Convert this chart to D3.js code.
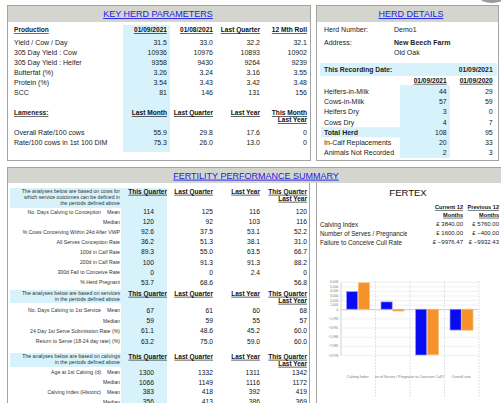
<!DOCTYPE html>
<html>
<head>
<meta charset="utf-8">
<script src="https://cdn.jsdelivr.net/npm/d3@7"></script>
<style>
  body { margin: 0; background: #fff; }
  svg { display: block; font-family: "Liberation Sans", Arial, sans-serif; }
</style>
</head>
<body>
<div id="chart"></div>
<script>
// ---- key herd parameters
const prodCols = ['01/09/2021', '01/08/2021', 'Last Quarter', '12 Mth Roll'];
const prodRows = ['Yield / Cow / Day', '305 Day Yield : Cow', '305 Day Yield : Heifer', 'Butterfat (%)', 'Protein (%)', 'SCC'];
const prodValues = [
  ['31.5', '33.0', '32.2', '32.1'],
  ['10936', '10976', '10893', '10902'],
  ['9358', '9430', '9264', '9239'],
  ['3.26', '3.24', '3.16', '3.55'],
  ['3.54', '3.43', '3.42', '3.48'],
  ['81', '146', '131', '156'],
];
const lameCols = ['Last Month', 'Last Quarter', 'Last Year', 'This Month|Last Year'];
const lameRows = ['Overall Rate/100 cows', 'Rate/100 cows in 1st 100 DIM'];
const lameValues = [['55.9', '29.8', '17.6', '0'], ['75.3', '26.0', '13.0', '0']];

// ---- herd details
const herdInfo = [['Herd Number:', 'Demo1'], ['Address:', 'New Beech Farm'], ['', 'Old Oak']];
const recordDate = '01/09/2021';
const herdCols = ['01/09/2021', '01/09/2020'];
const herdRows = ['Heifers-in-Milk', 'Cows-in-Milk', 'Heifers Dry', 'Cows Dry', 'Total Herd', 'In-Calf Replacements', 'Animals Not Recorded'];
const herdValues = [[44, 29], [57, 59], [3, 0], [4, 7], [108, 95], [20, 33], [2, 3]];

// ---- fertility tables
const fertCols = ['This Quarter', 'Last Quarter', 'Last Year', 'This Quarter|Last Year'];
const fertNotes = [
  ['The analyses below are based on cows for', 'which service outcomes can be defined in', 'the periods defined above'],
  ['The analyses below are based on services', 'in the periods defined above'],
  ['The analyses below are based on calvings', 'in the periods defined above'],
];
const conceptionLabels = ['No. Days Calving to Conception', '', '% Cows Conceiving Within 24d After VWP', 'All Serves Conception Rate', '100d in Calf Rate', '200d in Calf Rate', '300d Fail to Conceive Rate', '% Herd Pregnant'];
const conceptionStats = ['Mean', 'Median', '', '', '', '', '', ''];
const conceptionValues = [
  ['114', '125', '116', '120'],
  ['120', '92', '103', '116'],
  ['92.6', '37.5', '53.1', '52.2'],
  ['36.2', '51.3', '38.1', '31.0'],
  ['89.3', '55.0', '63.5', '66.7'],
  ['100', '91.3', '91.3', '88.2'],
  ['0', '0', '2.4', '0'],
  ['53.7', '68.6', '', '56.8'],
];
const serviceLabels = ['No. Days Calving to 1st Service', '', '24 Day 1st Serve Submission Rate (%)', 'Return to Serve (18-24 day rate) (%)'];
const serviceStats = ['Mean', 'Median', '', ''];
const serviceValues = [
  ['67', '61', '60', '68'],
  ['59', '59', '55', '57'],
  ['61.1', '48.6', '45.2', '60.0'],
  ['63.2', '75.0', '59.0', '60.0'],
];
const calvingLabels = ['Age at 1st Calving (d)', '', 'Calving Index (Historic)', ''];
const calvingStats = ['Mean', 'Median', 'Mean', 'Median'];
const calvingValues = [
  ['1300', '1332', '1311', '1342'],
  ['1066', '1149', '1116', '1172'],
  ['383', '418', '392', '419'],
  ['356', '413', '386', '369'],
];

// ---- fertex
const fertexCols = ['Current 12|Months', 'Previous 12|Months'];
const fertexRows = ['Calving Index', 'Number of Serves / Pregnancies', 'Failure to Conceive Cull Rate'];
const fertexCurrent = [3840.00, 1600.00, -9976.47];
const fertexPrevious = [5760.00, -400.00, -9932.43];

// ---- cost chart
const costCategories = ['Calving Index', 'Number of Serves / Pregnancies', 'Failure to Conceive Cull Rate', 'Overall cost'];
const costCurrent = [3840, 1600, -9976.47, -4536.47];
const costPrevious = [5760, -400, -9932.43, -4572.43];
const costTicks = [6000, 5000, 4000, 3000, 2000, 1000, 0, -1995, -3991, -5986, -7981, -9976];

const W = 501, H = 403;
const BLUE_BG = '#d7f2fb', GREY_BG = '#d5d5cf', BORDER = '#a3a3a3', LINK = '#1a1ae6';

const svg = d3.select('#chart').append('svg').attr('width', W).attr('height', H);

function label(g, x, y, s, size, o = {}) {
  return g.append('text')
    .attr('x', x).attr('y', y).attr('dy', '0.35em')
    .attr('text-anchor', o.anchor || 'start')
    .attr('font-weight', o.bold ? 'bold' : null)
    .style('text-decoration', o.under ? 'underline' : null)
    .attr('fill', o.fill || '#222')
    .style('font-size', size + 'px')
    .text(s);
}

// header that may break onto two lines ("a|b")
function header(g, x, y, s, size, lineGap) {
  s.split('|').forEach((part, i) => label(g, x, y + i * lineGap, part, size, { anchor: 'end', bold: true, under: true, fill: '#111' }));
}

function panel(x, y, w, h, bandH, title, titleX) {
  const g = svg.append('g');
  g.append('rect').attr('x', x + 0.5).attr('y', y + 0.5).attr('width', w).attr('height', h)
    .attr('fill', '#fff').attr('stroke', BORDER);
  g.append('rect').attr('x', x + 1).attr('y', y + 1).attr('width', w - 1).attr('height', bandH)
    .attr('fill', GREY_BG);
  label(g, titleX, y + bandH / 2 + 1, title, 9, { anchor: 'middle', under: true, fill: LINK });
  return g;
}

// small grey shape peeking in at the top right corner
svg.append('ellipse').attr('cx', 492).attr('cy', -2).attr('rx', 12).attr('ry', 5).attr('fill', '#9a9a9a');

// ================= KEY HERD PARAMETERS =================
const p1 = panel(7, 5, 303, 155, 16, 'KEY HERD PARAMETERS', 158);
const colR1 = [167, 213, 260, 307];
p1.append('rect').attr('x', 123).attr('y', 25).attr('width', 47).attr('height', 127).attr('fill', BLUE_BG);
label(p1, 14, 30, 'Production', 6.6, { bold: true, under: true });
prodCols.forEach((c, j) => header(p1, colR1[j], 30, c, 6.6, 7));
const prodY = d3.scaleLinear().domain([0, 1]).range([42.7, 52.7]);
prodRows.forEach((r, i) => {
  label(p1, 14, prodY(i), r, 7);
  prodValues[i].forEach((v, j) => label(p1, colR1[j], prodY(i), v, 7, { anchor: 'end' }));
});
label(p1, 14, 113, 'Lameness:', 6.6, { bold: true, under: true });
lameCols.forEach((c, j) => header(p1, colR1[j], 113, c, 6.6, 7));
const lameY = d3.scaleLinear().domain([0, 1]).range([132.5, 142.7]);
lameRows.forEach((r, i) => {
  label(p1, 14, lameY(i), r, 7);
  lameValues[i].forEach((v, j) => label(p1, colR1[j], lameY(i), v, 7, { anchor: 'end' }));
});

// ================= HERD DETAILS =================
const p2 = panel(316, 5, 182, 155, 16, 'HERD DETAILS', 411);
const infoY = d3.scaleLinear().domain([0, 1]).range([30, 42.5]);
herdInfo.forEach((row, i) => {
  const y = i < 2 ? infoY(i) : 52.7;
  label(p2, 324, y, row[0], 7);
  label(p2, 394, y, row[1], 7, { bold: i === 1 });
});
p2.append('rect').attr('x', 320).attr('y', 63).attr('width', 177).attr('height', 13).attr('fill', BLUE_BG);
label(p2, 324, 69.5, 'This Recording Date:', 6.8, { bold: true });
label(p2, 492.7, 69.5, recordDate, 6.8, { bold: true, anchor: 'end' });
const colR2 = [446.7, 492.7];
herdCols.forEach((c, j) => header(p2, colR2[j], 80.5, c, 6.6, 7));
p2.append('rect').attr('x', 400).attr('y', 85).attr('width', 50).attr('height', 73).attr('fill', BLUE_BG);
const herdY = d3.scaleLinear().domain([0, 1]).range([91.7, 101.85]);
herdRows.forEach((r, i) => {
  const total = r === 'Total Herd';
  if (total) p2.append('rect').attr('x', 321).attr('y', herdY(i) - 5).attr('width', 80).attr('height', 10).attr('fill', BLUE_BG);
  label(p2, 324, herdY(i), r, 7, { bold: total });
  herdValues[i].forEach((v, j) => label(p2, colR2[j], herdY(i), v, 7, { anchor: 'end' }));
});

// ================= FERTILITY PERFORMANCE SUMMARY =================
const p3 = panel(7, 167, 505, 250, 15, 'FERTILITY PERFORMANCE SUMMARY', 256);
p3.append('line').attr('x1', 309.5).attr('x2', 309.5).attr('y1', 183).attr('y2', H).attr('stroke', BORDER);
p3.append('line').attr('x1', 316.5).attr('x2', 316.5).attr('y1', 183).attr('y2', H).attr('stroke', BORDER);
p3.append('rect').attr('x', 121).attr('y', 188).attr('width', 46).attr('height', H - 188).attr('fill', BLUE_BG);

const colR3 = [167, 213, 260, 307];
const valR3 = [154, 213, 260, 307];
const blocks = [
  { top: 188, boxH: 20, first: 211.7, step: 10.1, labels: conceptionLabels, stats: conceptionStats, values: conceptionValues },
  { top: 290, boxH: 13, first: 310.5, step: 10.3, labels: serviceLabels, stats: serviceStats, values: serviceValues },
  { top: 353, boxH: 14, first: 372.5, step: 9.8, labels: calvingLabels, stats: calvingStats, values: calvingValues },
];
blocks.forEach((b, k) => {
  p3.append('rect').attr('x', 10).attr('y', b.top).attr('width', 111).attr('height', b.boxH).attr('fill', BLUE_BG);
  fertNotes[k].forEach((t, i) => label(p3, 120, b.top + 3 + i * 6, t, 5.2, { anchor: 'end', fill: '#333' }));
  fertCols.forEach((c, j) => header(p3, colR3[j], b.top + 3.5, c, 6.5, 7));
  b.labels.forEach((l, i) => {
    const y = b.first + i * b.step;
    const stat = b.stats[i];
    if (stat) {
      label(p3, 120, y, stat, 5.2, { anchor: 'end', fill: '#333' });
      if (l) label(p3, 101, y, l, 5.2, { anchor: 'end', fill: '#333' });
    } else {
      label(p3, 120, y, l, 5.2, { anchor: 'end', fill: '#333' });
    }
    b.values[i].forEach((v, j) => label(p3, valR3[j], y, v, 6.7, { anchor: 'end', fill: '#111' }));
  });
});

// ---- FERTEX summary
label(p3, 408, 193, 'FERTEX', 9.5, { anchor: 'middle', fill: '#111' });
const colR4 = [463, 499];
fertexCols.forEach((c, j) => header(p3, colR4[j], 207, c, 5.6, 7.8));
svg.append('clipPath').attr('id', 'fx-clip').append('rect').attr('x', 316).attr('y', 215).attr('width', 91).attr('height', 35);
const money = (v) => '£ ' + d3.format('.2f')(v);
const fxY = d3.scaleLinear().domain([0, 1]).range([224.3, 233.3]);
fertexRows.forEach((r, i) => {
  label(p3, 320, fxY(i), r, 6.3, { fill: '#222' }).attr('clip-path', 'url(#fx-clip)');
  label(p3, colR4[0], fxY(i), money(fertexCurrent[i]), 6, { anchor: 'end' });
  label(p3, colR4[1], fxY(i), money(fertexPrevious[i]), 6, { anchor: 'end' });
});

// ---- cost chart
const chart = svg.append('g');
const x0 = d3.scaleBand().domain(costCategories).range([340.5, 478.5]);
const x1 = d3.scaleBand().domain(['current', 'previous']).range([6, x0.bandwidth() - 5.5]).paddingInner(0.05);
const y = d3.scaleLinear().domain([-9976.47, 6000]).range([355, 281.7]);

chart.append('g').selectAll('line').data(costTicks).join('line')
  .attr('x1', 340.5).attr('x2', 478.5)
  .attr('y1', (d) => y(d) + 0.5).attr('y2', (d) => y(d) + 0.5)
  .attr('stroke', (d) => d === 0 ? '#bdbdbd' : '#ececec').attr('stroke-width', 0.8);

const yAxis = d3.axisLeft(y).tickValues(costTicks).tickSize(0).tickPadding(2);
chart.append('g').attr('transform', 'translate(340.5,0)').call(yAxis)
  .call((g) => g.select('.domain').attr('stroke', '#d0d0d0'))
  .call((g) => g.selectAll('text').style('font-size', '3.4px').attr('fill', '#777').attr('font-family', '"Liberation Sans", Arial, sans-serif'));

chart.append('g').selectAll('line').data(costCategories).join('line')
  .attr('x1', (d) => x0(d) + x0.bandwidth() + 0.5).attr('x2', (d) => x0(d) + x0.bandwidth() + 0.5)
  .attr('y1', 281).attr('y2', 397)
  .attr('stroke', '#dcdcdc').attr('stroke-width', 0.8).attr('stroke-dasharray', '2,1');

const barData = costCategories.flatMap((c, i) => [
  { c, key: 'current', v: costCurrent[i] },
  { c, key: 'previous', v: costPrevious[i] },
]);
chart.append('g').selectAll('rect').data(barData).join('rect')
  .attr('x', (d) => x0(d.c) + x1(d.key))
  .attr('width', x1.bandwidth())
  .attr('y', (d) => Math.min(y(d.v), y(0)))
  .attr('height', (d) => Math.abs(y(d.v) - y(0)))
  .attr('fill', (d) => d.key === 'current' ? '#0a0af2' : '#f5922a')
  .attr('stroke', (d) => d.key === 'current' ? '#9c9cff' : '#f8bd7c')
  .attr('stroke-width', 0.7);

const catG = chart.append('g');
costCategories.forEach((c, i) => {
  catG.append('clipPath').attr('id', 'cat-clip-' + i).append('rect')
    .attr('x', x0(c)).attr('y', 370).attr('width', x0.bandwidth()).attr('height', 12);
  catG.append('text').attr('x', x0(c) + x0.bandwidth() / 2).attr('y', 376.7).attr('dy', '0.35em')
    .attr('text-anchor', 'middle').attr('fill', '#777').style('font-size', '3.6px')
    .attr('clip-path', 'url(#cat-clip-' + i + ')')
    .text(c);
});
</script>
</body>
</html>
